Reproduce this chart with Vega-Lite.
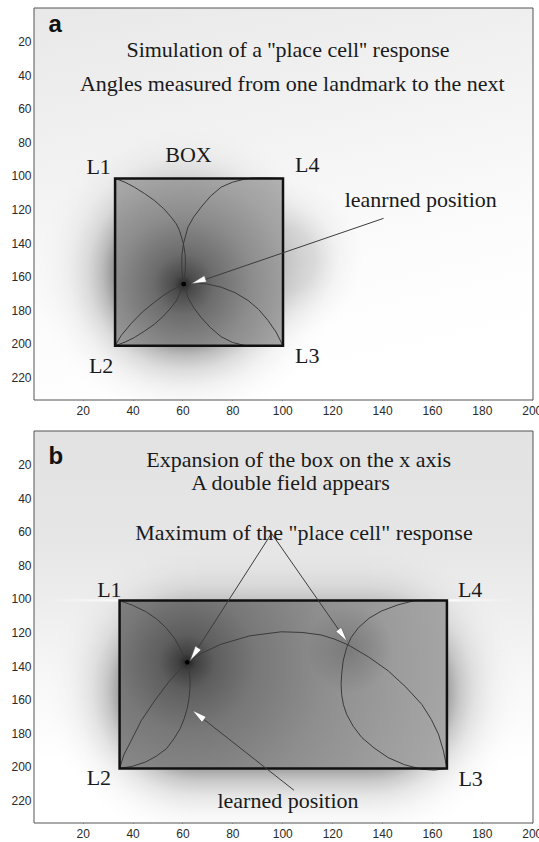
{
"$schema": "https://vega.github.io/schema/vega-lite/v6.json",
"background": "white",
"padding": {"left": 10, "top": 7, "right": 0, "bottom": 0},
"config": {
  "view": {"stroke": null},
  "axis": {"domain": false, "grid": false, "tickSize": -5, "tickColor": "#555", "tickWidth": 1, "labelFont": "Liberation Sans", "labelFontSize": 12, "labelColor": "#2a2a2a", "labelFlush": false}
},
"datasets": {
  "shA": [
    {"part": "tint", "x": 0.5, "x2": 200.5, "y": 0, "y2": 233.5},
    {"part": "halo", "x": 0.9, "x2": 121.1, "y": 68.7, "y2": 247.3},
    {"part": "haloR", "x": 68.2, "x2": 132.4, "y": 102.4, "y2": 197.6},
    {"part": "box", "x": 33, "x2": 100.3, "y": 101.5, "y2": 201.2},
    {"part": "frame", "x": 0.5, "x2": 200.5, "y": 0, "y2": 233.5}
  ],
  "shB": [
    {"part": "tint", "x": 0.5, "x2": 200.5, "y": 0, "y2": 233.5},
    {"part": "haloL", "x": 5.6, "x2": 125.8, "y": 65.7, "y2": 244.3},
    {"part": "haloR", "x": 75, "x2": 195.2, "y": 65.7, "y2": 244.3},
    {"part": "haloM", "x": 65.7, "x2": 135.1, "y": 65.7, "y2": 244.3},
    {"part": "streakL", "x": 6, "x2": 34.8, "y": 100.2, "y2": 101.6},
    {"part": "streakR", "x": 166, "x2": 194, "y": 100.2, "y2": 101.6},
    {"part": "box", "x": 34.8, "x2": 166, "y": 101, "y2": 201},
    {"part": "blob", "x": 109.5, "x2": 144.5, "y": 104, "y2": 156},
    {"part": "frame", "x": 0.5, "x2": 200.5, "y": 0, "y2": 233.5}
  ],
  "arcA": [
    {"arc": 1, "o": 1, "x": 33, "y": 101.5}, {"arc": 1, "o": 2, "x": 37, "y": 103.8}, {"arc": 1, "o": 3, "x": 40.7, "y": 106.7}, {"arc": 1, "o": 4, "x": 44.8, "y": 110.5}, {"arc": 1, "o": 5, "x": 48.8, "y": 114.7}, {"arc": 1, "o": 6, "x": 52.4, "y": 119.4}, {"arc": 1, "o": 7, "x": 55.5, "y": 124.6}, {"arc": 1, "o": 8, "x": 57.5, "y": 128.5}, {"arc": 1, "o": 9, "x": 58.8, "y": 132.5}, {"arc": 1, "o": 10, "x": 60.4, "y": 140.4}, {"arc": 1, "o": 11, "x": 61.1, "y": 147}, {"arc": 1, "o": 12, "x": 61.2, "y": 152}, {"arc": 1, "o": 13, "x": 61.1, "y": 157}, {"arc": 1, "o": 14, "x": 60.4, "y": 163}, {"arc": 1, "o": 15, "x": 58.8, "y": 170.5}, {"arc": 1, "o": 16, "x": 57.5, "y": 174.5}, {"arc": 1, "o": 17, "x": 55.5, "y": 178.4}, {"arc": 1, "o": 18, "x": 52.4, "y": 183.5}, {"arc": 1, "o": 19, "x": 48.8, "y": 188.3}, {"arc": 1, "o": 20, "x": 44.8, "y": 192.5}, {"arc": 1, "o": 21, "x": 40.7, "y": 196.3}, {"arc": 1, "o": 22, "x": 37, "y": 199}, {"arc": 1, "o": 23, "x": 33, "y": 201.2},
    {"arc": 2, "o": 1, "x": 100.3, "y": 101.5}, {"arc": 2, "o": 2, "x": 93, "y": 101.2}, {"arc": 2, "o": 3, "x": 88, "y": 101.3}, {"arc": 2, "o": 4, "x": 84.9, "y": 101.9}, {"arc": 2, "o": 5, "x": 80, "y": 103.8}, {"arc": 2, "o": 6, "x": 75.5, "y": 106.7}, {"arc": 2, "o": 7, "x": 71.3, "y": 112}, {"arc": 2, "o": 8, "x": 67.5, "y": 118.6}, {"arc": 2, "o": 9, "x": 64.5, "y": 124.5}, {"arc": 2, "o": 10, "x": 62.2, "y": 130.5}, {"arc": 2, "o": 11, "x": 60.4, "y": 140.4}, {"arc": 2, "o": 12, "x": 59.8, "y": 147}, {"arc": 2, "o": 13, "x": 59.7, "y": 152}, {"arc": 2, "o": 14, "x": 59.8, "y": 157}, {"arc": 2, "o": 15, "x": 60.4, "y": 163}, {"arc": 2, "o": 16, "x": 62.2, "y": 172.5}, {"arc": 2, "o": 17, "x": 64.5, "y": 178.5}, {"arc": 2, "o": 18, "x": 67.5, "y": 184.4}, {"arc": 2, "o": 19, "x": 71.3, "y": 190.5}, {"arc": 2, "o": 20, "x": 75.5, "y": 195.8}, {"arc": 2, "o": 21, "x": 80, "y": 199.2}, {"arc": 2, "o": 22, "x": 84.9, "y": 201}, {"arc": 2, "o": 23, "x": 88, "y": 201.5}, {"arc": 2, "o": 24, "x": 93, "y": 201.6}, {"arc": 2, "o": 25, "x": 100.3, "y": 201.2},
    {"arc": 3, "o": 1, "x": 33, "y": 201.2}, {"arc": 3, "o": 2, "x": 35.5, "y": 195}, {"arc": 3, "o": 3, "x": 39.4, "y": 188}, {"arc": 3, "o": 4, "x": 44, "y": 181}, {"arc": 3, "o": 5, "x": 48.8, "y": 175.2}, {"arc": 3, "o": 6, "x": 52, "y": 171.6}, {"arc": 3, "o": 7, "x": 55.5, "y": 168.3}, {"arc": 3, "o": 8, "x": 58, "y": 166.3}, {"arc": 3, "o": 9, "x": 60.5, "y": 164.7}, {"arc": 3, "o": 10, "x": 63.5, "y": 164}, {"arc": 3, "o": 11, "x": 66.2, "y": 163.9}, {"arc": 3, "o": 12, "x": 70, "y": 164.5}, {"arc": 3, "o": 13, "x": 75.5, "y": 166.3}, {"arc": 3, "o": 14, "x": 81, "y": 169.5}, {"arc": 3, "o": 15, "x": 86.3, "y": 174.2}, {"arc": 3, "o": 16, "x": 90.5, "y": 179.5}, {"arc": 3, "o": 17, "x": 94.3, "y": 186.1}, {"arc": 3, "o": 18, "x": 97.5, "y": 193}, {"arc": 3, "o": 19, "x": 100.3, "y": 201.2}
  ],
  "arcB": [
    {"arc": 1, "o": 1, "x": 34.8, "y": 101}, {"arc": 1, "o": 2, "x": 40, "y": 103.8}, {"arc": 1, "o": 3, "x": 45.3, "y": 107.6}, {"arc": 1, "o": 4, "x": 49.7, "y": 112}, {"arc": 1, "o": 5, "x": 53.6, "y": 117.5}, {"arc": 1, "o": 6, "x": 56.8, "y": 123.5}, {"arc": 1, "o": 7, "x": 59.1, "y": 129.5}, {"arc": 1, "o": 8, "x": 61, "y": 135.5}, {"arc": 1, "o": 9, "x": 62.5, "y": 141.4}, {"arc": 1, "o": 10, "x": 63, "y": 147}, {"arc": 1, "o": 11, "x": 63, "y": 153.3}, {"arc": 1, "o": 12, "x": 62.6, "y": 159.5}, {"arc": 1, "o": 13, "x": 61.9, "y": 165.3}, {"arc": 1, "o": 14, "x": 60.7, "y": 171.3}, {"arc": 1, "o": 15, "x": 59.1, "y": 177.2}, {"arc": 1, "o": 16, "x": 56.6, "y": 183.3}, {"arc": 1, "o": 17, "x": 53.6, "y": 189.2}, {"arc": 1, "o": 18, "x": 49.6, "y": 193.6}, {"arc": 1, "o": 19, "x": 45.3, "y": 197.1}, {"arc": 1, "o": 20, "x": 40, "y": 199.7}, {"arc": 1, "o": 21, "x": 34.8, "y": 201},
    {"arc": 2, "o": 1, "x": 34.8, "y": 201}, {"arc": 2, "o": 2, "x": 36.5, "y": 193}, {"arc": 2, "o": 3, "x": 39.4, "y": 184.6}, {"arc": 2, "o": 4, "x": 43.5, "y": 172.5}, {"arc": 2, "o": 5, "x": 48.8, "y": 160.8}, {"arc": 2, "o": 6, "x": 54.5, "y": 149.5}, {"arc": 2, "o": 7, "x": 60.8, "y": 139}, {"arc": 2, "o": 8, "x": 67.5, "y": 132.5}, {"arc": 2, "o": 9, "x": 75.5, "y": 127}, {"arc": 2, "o": 10, "x": 87, "y": 122}, {"arc": 2, "o": 11, "x": 99.6, "y": 119.6}, {"arc": 2, "o": 12, "x": 108, "y": 120}, {"arc": 2, "o": 13, "x": 115.6, "y": 121.5}, {"arc": 2, "o": 14, "x": 121, "y": 124}, {"arc": 2, "o": 15, "x": 126.5, "y": 127.5}, {"arc": 2, "o": 16, "x": 134.5, "y": 134.5}, {"arc": 2, "o": 17, "x": 142.5, "y": 142.9}, {"arc": 2, "o": 18, "x": 149.5, "y": 152.5}, {"arc": 2, "o": 19, "x": 155.9, "y": 162.8}, {"arc": 2, "o": 20, "x": 159.8, "y": 172}, {"arc": 2, "o": 21, "x": 162.6, "y": 180.6}, {"arc": 2, "o": 22, "x": 164.6, "y": 190.5}, {"arc": 2, "o": 23, "x": 166, "y": 201},
    {"arc": 3, "o": 1, "x": 166, "y": 101}, {"arc": 3, "o": 2, "x": 160, "y": 100.8}, {"arc": 3, "o": 3, "x": 153.3, "y": 100.9}, {"arc": 3, "o": 4, "x": 146.5, "y": 103.5}, {"arc": 3, "o": 5, "x": 139.8, "y": 107.2}, {"arc": 3, "o": 6, "x": 134.8, "y": 111.5}, {"arc": 3, "o": 7, "x": 130.5, "y": 117.2}, {"arc": 3, "o": 8, "x": 127.6, "y": 123}, {"arc": 3, "o": 9, "x": 125.8, "y": 129.1}, {"arc": 3, "o": 10, "x": 124.4, "y": 137}, {"arc": 3, "o": 11, "x": 123.8, "y": 145}, {"arc": 3, "o": 12, "x": 123.6, "y": 151}, {"arc": 3, "o": 13, "x": 123.8, "y": 156.9}, {"arc": 3, "o": 14, "x": 124.5, "y": 163}, {"arc": 3, "o": 15, "x": 125.8, "y": 168.7}, {"arc": 3, "o": 16, "x": 128.4, "y": 175.8}, {"arc": 3, "o": 17, "x": 131.9, "y": 182.6}, {"arc": 3, "o": 18, "x": 136.8, "y": 188.8}, {"arc": 3, "o": 19, "x": 142.5, "y": 194.6}, {"arc": 3, "o": 20, "x": 149, "y": 198.8}, {"arc": 3, "o": 21, "x": 155.9, "y": 201.5}, {"arc": 3, "o": 22, "x": 161, "y": 202}, {"arc": 3, "o": 23, "x": 166, "y": 201}
  ],
  "arrA": [{"x": 140.6, "y": 125.3, "x2": 65, "y2": 163.8}],
  "headA": [{"x": 63.5, "y": 164.2, "ang": 251.3}],
  "dotA": [{"x": 60.5, "y": 164.5}],
  "arrB": [
    {"x": 95.7, "y": 61, "x2": 63.5, "y2": 135.6},
    {"x": 95.7, "y": 61, "x2": 125.5, "y2": 124.5},
    {"x": 104.7, "y": 214, "x2": 64.5, "y2": 167}
  ],
  "headB": [
    {"x": 63, "y": 136.8, "ang": 213.2},
    {"x": 126.1, "y": 125.5, "ang": 144.3},
    {"x": 63.9, "y": 166.3, "ang": 308.2}
  ],
  "dotB": [{"x": 61.9, "y": 137.8}],
  "txtA": [
    {"x": 102.3, "y": 29.3, "t": "Simulation of a ''place cell'' response"},
    {"x": 104, "y": 49.2, "t": "Angles measured from one landmark to the next"},
    {"x": 62.4, "y": 91.9, "t": "BOX"},
    {"x": 26.4, "y": 98.8, "t": "L1"},
    {"x": 110, "y": 97.5, "t": "L4"},
    {"x": 155.5, "y": 118.3, "t": "leanrned position"},
    {"x": 27.4, "y": 217.2, "t": "L2"},
    {"x": 110, "y": 211.7, "t": "L3"}
  ],
  "labA": [{"x": 6.3, "y": 14.4, "t": "a"}],
  "txtB": [
    {"x": 106.6, "y": 21.6, "t": "Expansion of the box on the x axis"},
    {"x": 103.3, "y": 34.9, "t": "A double field appears"},
    {"x": 108.7, "y": 64.8, "t": "Maximum of the \"place cell\" response"},
    {"x": 30.7, "y": 98.6, "t": "L1"},
    {"x": 175.3, "y": 98.6, "t": "L4"},
    {"x": 26.5, "y": 211, "t": "L2"},
    {"x": 175.5, "y": 211.4, "t": "L3"},
    {"x": 102.3, "y": 224.6, "t": "learned position"}
  ],
  "labB": [{"x": 6.3, "y": 19.7, "t": "b"}],
  "tickX": [{"x": 20}, {"x": 40}, {"x": 60}, {"x": 80}, {"x": 100}, {"x": 120}, {"x": 140}, {"x": 160}, {"x": 180}, {"x": 200}],
  "tickY": [{"y": 20}, {"y": 40}, {"y": 60}, {"y": 80}, {"y": 100}, {"y": 120}, {"y": 140}, {"y": 160}, {"y": 180}, {"y": 200}, {"y": 220}]
},
"vconcat": [
  {
    "width": 499, "height": 392,
    "encoding": {
      "x": {"field": "x", "type": "quantitative", "scale": {"domain": [0.5, 200.5], "nice": false, "zero": false}, "axis": {"title": null, "values": [20, 40, 60, 80, 100, 120, 140, 160, 180, 200], "labelPadding": 10}},
      "y": {"field": "y", "type": "quantitative", "scale": {"domain": [0, 233.5], "nice": false, "zero": false, "reverse": true}, "axis": {"title": null, "values": [20, 40, 60, 80, 100, 120, 140, 160, 180, 200, 220], "labelPadding": 8}}
    },
    "layer": [
      {"data": {"name": "shA"}, "transform": [{"filter": "datum.part === 'tint'"}],
       "mark": {"type": "rect", "clip": true, "fill": {"gradient": "linear", "x1": 0.1, "y1": 0, "x2": 0.4, "y2": 1, "stops": [{"offset": 0, "color": "#e9e9e9"}, {"offset": 0.45, "color": "#f4f4f4"}, {"offset": 0.75, "color": "#fcfcfc"}, {"offset": 1, "color": "#ffffff"}]}},
       "encoding": {"x2": {"field": "x2"}, "y2": {"field": "y2"}}},
      {"data": {"name": "shA"}, "transform": [{"filter": "datum.part === 'halo'"}],
       "mark": {"type": "rect", "clip": true, "fill": {"gradient": "radial", "x1": 0.5, "y1": 0.5, "r1": 0, "x2": 0.5, "y2": 0.5, "r2": 0.5, "stops": [{"offset": 0, "color": "rgba(128,128,128,0.92)"}, {"offset": 0.46, "color": "rgba(130,130,130,0.9)"}, {"offset": 0.55, "color": "rgba(145,145,145,0.6)"}, {"offset": 0.65, "color": "rgba(160,160,160,0.35)"}, {"offset": 0.78, "color": "rgba(180,180,180,0.15)"}, {"offset": 0.9, "color": "rgba(200,200,200,0.05)"}, {"offset": 1, "color": "rgba(220,220,220,0)"}]}},
       "encoding": {"x2": {"field": "x2"}, "y2": {"field": "y2"}}},
      {"data": {"name": "shA"}, "transform": [{"filter": "datum.part === 'haloR'"}],
       "mark": {"type": "rect", "clip": true, "fill": {"gradient": "radial", "x1": 0.5, "y1": 0.5, "r1": 0, "x2": 0.5, "y2": 0.5, "r2": 0.5, "stops": [{"offset": 0, "color": "rgba(150,150,150,0.4)"}, {"offset": 0.4, "color": "rgba(150,150,150,0.3)"}, {"offset": 0.7, "color": "rgba(170,170,170,0.1)"}, {"offset": 1, "color": "rgba(200,200,200,0)"}]}},
       "encoding": {"x2": {"field": "x2"}, "y2": {"field": "y2"}}},
      {"data": {"name": "shA"}, "transform": [{"filter": "datum.part === 'box'"}],
       "mark": {"type": "rect", "fill": {"gradient": "radial", "x1": 0.409, "y1": 0.632, "r1": 0, "x2": 0.409, "y2": 0.632, "r2": 0.9, "stops": [{"offset": 0, "color": "#262626"}, {"offset": 0.06, "color": "#4a4a4a"}, {"offset": 0.2, "color": "#6c6c6c"}, {"offset": 0.45, "color": "#8c8c8c"}, {"offset": 0.7, "color": "#a2a2a2"}, {"offset": 1, "color": "#b4b4b4"}]}},
       "encoding": {"x2": {"field": "x2"}, "y2": {"field": "y2"}}},
      {"data": {"name": "arcA"},
       "mark": {"type": "line", "color": "#3a3a3a", "strokeWidth": 1, "clip": true},
       "encoding": {"detail": {"field": "arc"}, "order": {"field": "o"}}},
      {"data": {"name": "shA"}, "transform": [{"filter": "datum.part === 'box'"}],
       "mark": {"type": "rect", "filled": false, "color": "#111", "strokeWidth": 2.5},
       "encoding": {"x2": {"field": "x2"}, "y2": {"field": "y2"}}},
      {"data": {"name": "arrA"},
       "mark": {"type": "rule", "color": "#3c3c3c", "strokeWidth": 1},
       "encoding": {"x2": {"field": "x2"}, "y2": {"field": "y2"}}},
      {"data": {"name": "headA"},
       "mark": {"type": "point", "shape": "M0,0L-0.5,2.2L0.5,2.2Z", "filled": true, "fill": "white", "stroke": "#555", "strokeWidth": 0.6, "opacity": 1, "size": 190},
       "encoding": {"angle": {"field": "ang", "type": "quantitative", "scale": null}}},
      {"data": {"name": "dotA"},
       "mark": {"type": "point", "shape": "circle", "filled": true, "color": "#000", "opacity": 1, "size": 22}},
      {"data": {"name": "txtA"},
       "mark": {"type": "text", "font": "Liberation Serif", "fontSize": 22, "align": "center", "baseline": "alphabetic", "color": "#1a1a1a"},
       "encoding": {"text": {"field": "t"}}},
      {"data": {"name": "labA"},
       "mark": {"type": "text", "font": "Liberation Sans", "fontSize": 24, "fontWeight": "bold", "align": "left", "baseline": "alphabetic", "color": "#111"},
       "encoding": {"text": {"field": "t"}}},
      {"data": {"name": "shA"}, "transform": [{"filter": "datum.part === 'frame'"}],
       "mark": {"type": "rect", "filled": false, "color": "#555", "strokeWidth": 1},
       "encoding": {"x2": {"field": "x2"}, "y2": {"field": "y2"}}},
      {"data": {"name": "tickX"},
       "mark": {"type": "tick", "orient": "vertical", "size": 10, "thickness": 1, "color": "#555", "clip": true},
       "encoding": {"y": {"datum": 0, "type": "quantitative"}}},
      {"data": {"name": "tickY"},
       "mark": {"type": "tick", "orient": "horizontal", "size": 10, "thickness": 1, "color": "#555", "clip": true},
       "encoding": {"x": {"datum": 200.5, "type": "quantitative"}}}
    ]
  },
  {
    "width": 499, "height": 392,
    "encoding": {
      "x": {"field": "x", "type": "quantitative", "scale": {"domain": [0.5, 200.5], "nice": false, "zero": false}, "axis": {"title": null, "values": [20, 40, 60, 80, 100, 120, 140, 160, 180, 200], "labelPadding": 10}},
      "y": {"field": "y", "type": "quantitative", "scale": {"domain": [0, 233.5], "nice": false, "zero": false, "reverse": true}, "axis": {"title": null, "values": [20, 40, 60, 80, 100, 120, 140, 160, 180, 200, 220], "labelPadding": 8}}
    },
    "layer": [
      {"data": {"name": "shB"}, "transform": [{"filter": "datum.part === 'tint'"}],
       "mark": {"type": "rect", "clip": true, "fill": {"gradient": "linear", "x1": 0, "y1": 0, "x2": 0, "y2": 1, "stops": [{"offset": 0, "color": "#e2e2e2"}, {"offset": 0.28, "color": "#e6e6e6"}, {"offset": 0.45, "color": "#eeeeee"}, {"offset": 0.65, "color": "#f8f8f8"}, {"offset": 0.85, "color": "#ffffff"}, {"offset": 1, "color": "#ffffff"}]}},
       "encoding": {"x2": {"field": "x2"}, "y2": {"field": "y2"}}},
      {"data": {"name": "shB"}, "transform": [{"filter": "datum.part === 'haloL'"}],
       "mark": {"type": "rect", "clip": true, "fill": {"gradient": "radial", "x1": 0.5, "y1": 0.5, "r1": 0, "x2": 0.5, "y2": 0.5, "r2": 0.5, "stops": [{"offset": 0, "color": "rgba(128,128,128,0.95)"}, {"offset": 0.45, "color": "rgba(128,128,128,0.95)"}, {"offset": 0.51, "color": "rgba(135,135,135,0.8)"}, {"offset": 0.6, "color": "rgba(150,150,150,0.5)"}, {"offset": 0.7, "color": "rgba(165,165,165,0.28)"}, {"offset": 0.82, "color": "rgba(185,185,185,0.12)"}, {"offset": 0.92, "color": "rgba(200,200,200,0.04)"}, {"offset": 1, "color": "rgba(220,220,220,0)"}]}},
       "encoding": {"x2": {"field": "x2"}, "y2": {"field": "y2"}}},
      {"data": {"name": "shB"}, "transform": [{"filter": "datum.part === 'haloR'"}],
       "mark": {"type": "rect", "clip": true, "fill": {"gradient": "radial", "x1": 0.5, "y1": 0.5, "r1": 0, "x2": 0.5, "y2": 0.5, "r2": 0.5, "stops": [{"offset": 0, "color": "rgba(128,128,128,0.95)"}, {"offset": 0.45, "color": "rgba(128,128,128,0.95)"}, {"offset": 0.51, "color": "rgba(135,135,135,0.8)"}, {"offset": 0.6, "color": "rgba(150,150,150,0.5)"}, {"offset": 0.7, "color": "rgba(165,165,165,0.28)"}, {"offset": 0.82, "color": "rgba(185,185,185,0.12)"}, {"offset": 0.92, "color": "rgba(200,200,200,0.04)"}, {"offset": 1, "color": "rgba(220,220,220,0)"}]}},
       "encoding": {"x2": {"field": "x2"}, "y2": {"field": "y2"}}},
      {"data": {"name": "shB"}, "transform": [{"filter": "datum.part === 'haloM'"}],
       "mark": {"type": "rect", "clip": true, "fill": {"gradient": "linear", "x1": 0, "y1": 0, "x2": 0, "y2": 1, "stops": [{"offset": 0, "color": "rgb(230,230,230)"}, {"offset": 0.04, "color": "rgb(230,230,230)"}, {"offset": 0.09, "color": "rgb(227,227,227)"}, {"offset": 0.15, "color": "rgb(216,216,216)"}, {"offset": 0.2, "color": "rgb(194,194,194)"}, {"offset": 0.245, "color": "rgb(156,156,156)"}, {"offset": 0.3, "color": "rgb(134,134,134)"}, {"offset": 0.7, "color": "rgb(134,134,134)"}, {"offset": 0.755, "color": "rgb(159,159,159)"}, {"offset": 0.8, "color": "rgb(202,202,202)"}, {"offset": 0.85, "color": "rgb(230,230,230)"}, {"offset": 0.91, "color": "rgb(247,247,247)"}, {"offset": 0.96, "color": "rgb(253,253,253)"}, {"offset": 1, "color": "rgb(255,255,255)"}]}},
       "encoding": {"x2": {"field": "x2"}, "y2": {"field": "y2"}}},
      {"data": {"name": "shB"}, "transform": [{"filter": "datum.part === 'streakL'"}],
       "mark": {"type": "rect", "clip": true, "fill": {"gradient": "linear", "x1": 0, "y1": 0, "x2": 1, "y2": 0, "stops": [{"offset": 0, "color": "rgba(255,255,255,0)"}, {"offset": 1, "color": "rgba(255,255,255,0.85)"}]}},
       "encoding": {"x2": {"field": "x2"}, "y2": {"field": "y2"}}},
      {"data": {"name": "shB"}, "transform": [{"filter": "datum.part === 'streakR'"}],
       "mark": {"type": "rect", "clip": true, "fill": {"gradient": "linear", "x1": 0, "y1": 0, "x2": 1, "y2": 0, "stops": [{"offset": 0, "color": "rgba(255,255,255,0.85)"}, {"offset": 1, "color": "rgba(255,255,255,0)"}]}},
       "encoding": {"x2": {"field": "x2"}, "y2": {"field": "y2"}}},
      {"data": {"name": "shB"}, "transform": [{"filter": "datum.part === 'box'"}],
       "mark": {"type": "rect", "fill": {"gradient": "radial", "x1": 0.2066, "y1": 0.432, "r1": 0, "x2": 0.2066, "y2": 0.432, "r2": 0.85, "stops": [{"offset": 0, "color": "#202020"}, {"offset": 0.03, "color": "#404040"}, {"offset": 0.1, "color": "#5e5e5e"}, {"offset": 0.25, "color": "#787878"}, {"offset": 0.5, "color": "#8e8e8e"}, {"offset": 0.75, "color": "#9c9c9c"}, {"offset": 1, "color": "#a8a8a8"}]}},
       "encoding": {"x2": {"field": "x2"}, "y2": {"field": "y2"}}},
      {"data": {"name": "shB"}, "transform": [{"filter": "datum.part === 'blob'"}],
       "mark": {"type": "rect", "fill": {"gradient": "radial", "x1": 0.5, "y1": 0.5, "r1": 0, "x2": 0.5, "y2": 0.5, "r2": 0.5, "stops": [{"offset": 0, "color": "rgba(50,50,50,0.25)"}, {"offset": 1, "color": "rgba(50,50,50,0)"}]}},
       "encoding": {"x2": {"field": "x2"}, "y2": {"field": "y2"}}},
      {"data": {"name": "arcB"},
       "mark": {"type": "line", "color": "#3a3a3a", "strokeWidth": 1, "clip": true},
       "encoding": {"detail": {"field": "arc"}, "order": {"field": "o"}}},
      {"data": {"name": "shB"}, "transform": [{"filter": "datum.part === 'box'"}],
       "mark": {"type": "rect", "filled": false, "color": "#111", "strokeWidth": 2.5},
       "encoding": {"x2": {"field": "x2"}, "y2": {"field": "y2"}}},
      {"data": {"name": "arrB"},
       "mark": {"type": "rule", "color": "#3c3c3c", "strokeWidth": 1},
       "encoding": {"x2": {"field": "x2"}, "y2": {"field": "y2"}}},
      {"data": {"name": "headB"},
       "mark": {"type": "point", "shape": "M0,0L-0.5,2.2L0.5,2.2Z", "filled": true, "fill": "white", "stroke": "#555", "strokeWidth": 0.6, "opacity": 1, "size": 190},
       "encoding": {"angle": {"field": "ang", "type": "quantitative", "scale": null}}},
      {"data": {"name": "dotB"},
       "mark": {"type": "point", "shape": "circle", "filled": true, "color": "#000", "opacity": 1, "size": 22}},
      {"data": {"name": "txtB"},
       "mark": {"type": "text", "font": "Liberation Serif", "fontSize": 22, "align": "center", "baseline": "alphabetic", "color": "#1a1a1a"},
       "encoding": {"text": {"field": "t"}}},
      {"data": {"name": "labB"},
       "mark": {"type": "text", "font": "Liberation Sans", "fontSize": 24, "fontWeight": "bold", "align": "left", "baseline": "alphabetic", "color": "#111"},
       "encoding": {"text": {"field": "t"}}},
      {"data": {"name": "shB"}, "transform": [{"filter": "datum.part === 'frame'"}],
       "mark": {"type": "rect", "filled": false, "color": "#555", "strokeWidth": 1},
       "encoding": {"x2": {"field": "x2"}, "y2": {"field": "y2"}}},
      {"data": {"name": "tickX"},
       "mark": {"type": "tick", "orient": "vertical", "size": 10, "thickness": 1, "color": "#555", "clip": true},
       "encoding": {"y": {"datum": 0, "type": "quantitative"}}},
      {"data": {"name": "tickY"},
       "mark": {"type": "tick", "orient": "horizontal", "size": 10, "thickness": 1, "color": "#555", "clip": true},
       "encoding": {"x": {"datum": 200.5, "type": "quantitative"}}}
    ]
  }
],
"spacing": 14
}
